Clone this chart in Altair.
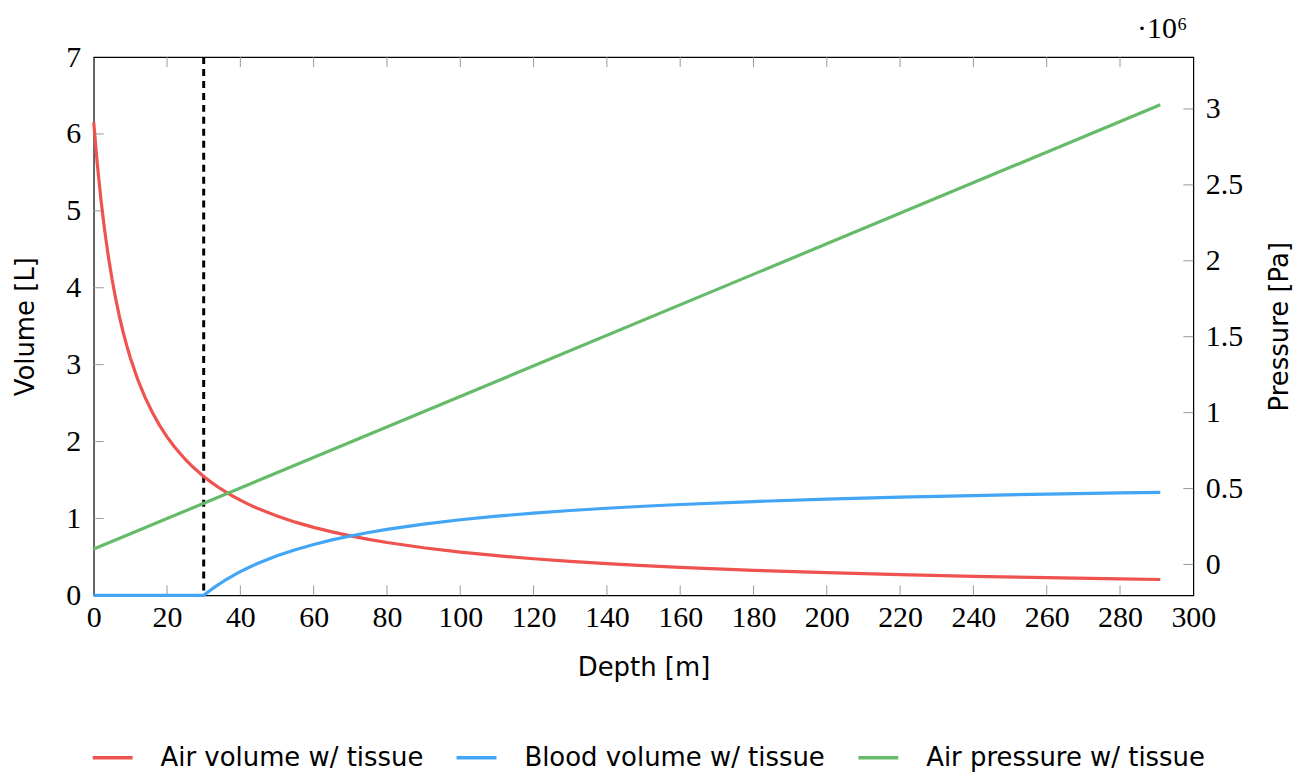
import altair as alt
import pandas as pd

# ---- data ----
air_depth = [0, 1, 2, 3, 4, 5, 6, 7, 8, 9, 10, 12, 14, 16, 18, 20, 22, 25, 27, 30,
             32, 34, 36, 38, 40, 42, 45, 50, 55, 60, 65, 70, 75, 80, 90, 100, 110,
             120, 130, 140, 150, 160, 180, 200, 220, 240, 260, 280, 291]
air_volume = [6.15, 5.595, 5.131, 4.739, 4.402, 4.110, 3.855, 3.629, 3.428, 3.249,
              3.087, 2.807, 2.574, 2.377, 2.207, 2.060, 1.932, 1.767, 1.672, 1.546,
              1.473, 1.406, 1.345, 1.289, 1.238, 1.190, 1.125, 1.032, 0.952, 0.884,
              0.826, 0.774, 0.728, 0.688, 0.619, 0.563, 0.516, 0.476, 0.442, 0.413,
              0.387, 0.364, 0.326, 0.295, 0.269, 0.248, 0.230, 0.214, 0.206]

blood_depth = [0, 30, 31, 32, 33, 34, 35, 36, 38, 40, 42, 45, 50, 55, 60, 65, 70, 75,
               80, 90, 100, 110, 120, 130, 140, 150, 160, 180, 200, 220, 240, 260,
               280, 291]
blood_volume = [0.0, 0.0, 0.037, 0.073, 0.107, 0.140, 0.171, 0.201, 0.257, 0.308,
                0.356, 0.421, 0.514, 0.594, 0.662, 0.721, 0.772, 0.818, 0.858, 0.927,
                0.983, 1.030, 1.070, 1.104, 1.133, 1.159, 1.182, 1.220, 1.251, 1.277,
                1.298, 1.317, 1.332, 1.340]

pressure_depth = [0, 291]
pressure_pa = [101325, 3027400]

threshold_depth = [30]

series_names = ["Air volume w/ tissue", "Blood volume w/ tissue", "Air pressure w/ tissue"]
series_colors = ["#ef5350", "#42a5f5", "#66bb6a"]

x_ticks = [0, 20, 40, 60, 80, 100, 120, 140, 160, 180, 200, 220, 240, 260, 280, 300]
vol_ticks = [0, 1, 2, 3, 4, 5, 6, 7]
p_ticks = [0, 500000, 1000000, 1500000, 2000000, 2500000, 3000000]

# ---- layout / style ----
W, H = 1103, 540
TL = 10
SERIF = "Liberation Serif"
SANS = "DejaVu Sans"
TICK_COLOR = "#9a9a9a"

vol_df = pd.DataFrame(
    {"depth": air_depth + blood_depth,
     "value": air_volume + blood_volume,
     "series": [series_names[0]] * len(air_depth) + [series_names[1]] * len(blood_depth)}
)
p_df = pd.DataFrame({"depth": pressure_depth, "value": pressure_pa,
                     "series": [series_names[2]] * len(pressure_depth)})

xscale = alt.Scale(domain=[0, 300], nice=False, zero=False)
V_DOM = [0, 7]
P_DOM = [-203500, 3342000]

color = alt.Color("series:N", scale=alt.Scale(domain=series_names, range=series_colors),
                  sort=series_names, title=None,
                  legend=alt.Legend(orient="none", direction="horizontal",
                                    legendX=-3, legendY=681))

vol_lines = alt.Chart(vol_df).mark_line(strokeWidth=3.2).encode(
    x=alt.X("depth:Q", scale=xscale,
            axis=alt.Axis(values=x_ticks, title="Depth [m]", format="d",
                          labelFlush=False, labelOverlap=False)),
    y=alt.Y("value:Q", scale=alt.Scale(domain=V_DOM, nice=False),
            axis=alt.Axis(values=vol_ticks, title="Volume [L]", orient="left",
                          labelFlush=False, labelOverlap=False)),
    color=color,
)

p_line = alt.Chart(p_df).mark_line(strokeWidth=3.2).encode(
    x=alt.X("depth:Q", scale=xscale),
    y=alt.Y("value:Q", scale=alt.Scale(domain=P_DOM, nice=False, zero=False),
            axis=alt.Axis(values=p_ticks, title="Pressure [Pa]", orient="right",
                          titleAngle=270, labelFlush=False, labelOverlap=False,
                          labelExpr="format(datum.value / 1000000, '~g')")),
    color=color,
)

thresh = alt.Chart(pd.DataFrame({"d": threshold_depth})).mark_rule(
    color="black", strokeWidth=3, strokeDash=[7, 5]
).encode(
    x=alt.X("d:Q", scale=xscale),
    y=alt.value(0),
    y2=alt.value(H),
)

xt_df = pd.DataFrame({"t": x_ticks[1:-1]})
xt_bottom = alt.Chart(xt_df).mark_rule(color=TICK_COLOR, strokeWidth=1).encode(
    x=alt.X("t:Q", scale=xscale), y=alt.value(H), y2=alt.value(H - TL))
xt_top = alt.Chart(xt_df).mark_rule(color=TICK_COLOR, strokeWidth=1).encode(
    x=alt.X("t:Q", scale=xscale), y=alt.value(0), y2=alt.value(TL))

vt_df = pd.DataFrame({"t": vol_ticks[1:-1]})
vt_left = alt.Chart(vt_df).mark_rule(color=TICK_COLOR, strokeWidth=1).encode(
    y=alt.Y("t:Q", scale=alt.Scale(domain=V_DOM, nice=False), axis=None),
    x=alt.value(0), x2=alt.value(TL))

pt_df = pd.DataFrame({"t": p_ticks})
pt_right = alt.Chart(pt_df).mark_rule(color=TICK_COLOR, strokeWidth=1).encode(
    y=alt.Y("t:Q", scale=alt.Scale(domain=P_DOM, nice=False, zero=False), axis=None),
    x=alt.value(W - TL), x2=alt.value(W))

chart = alt.layer(
    vt_left, pt_right, xt_bottom, xt_top, thresh, vol_lines, p_line
).resolve_scale(y="independent").properties(
    width=W, height=H,
    title=alt.TitleParams("·10⁶", anchor="end", frame="group", font=SERIF,
                          fontSize=30, fontWeight="normal", offset=0, dx=-6, dy=2),
).configure_view(
    stroke="black", strokeWidth=1.2
).configure_axis(
    grid=False, domain=False, ticks=False,
    labelFont=SERIF, labelFontSize=30, labelColor="black",
    titleFont=SANS, titleFontSize=26, titleFontWeight="normal", titleColor="black",
).configure_axisX(
    labelPadding=7, titlePadding=22,
).configure_axisLeft(
    labelPadding=13, titlePadding=27,
).configure_axisRight(
    labelPadding=12, titlePadding=50,
).configure_legend(
    symbolType="stroke", symbolStrokeWidth=3.5, symbolSize=1600,
    labelFont=SANS, labelFontSize=26, labelColor="black",
    columnPadding=26, labelOffset=26, labelLimit=0,
)

chart.save("out.html", embed_options={"renderer": "svg", "actions": False})
